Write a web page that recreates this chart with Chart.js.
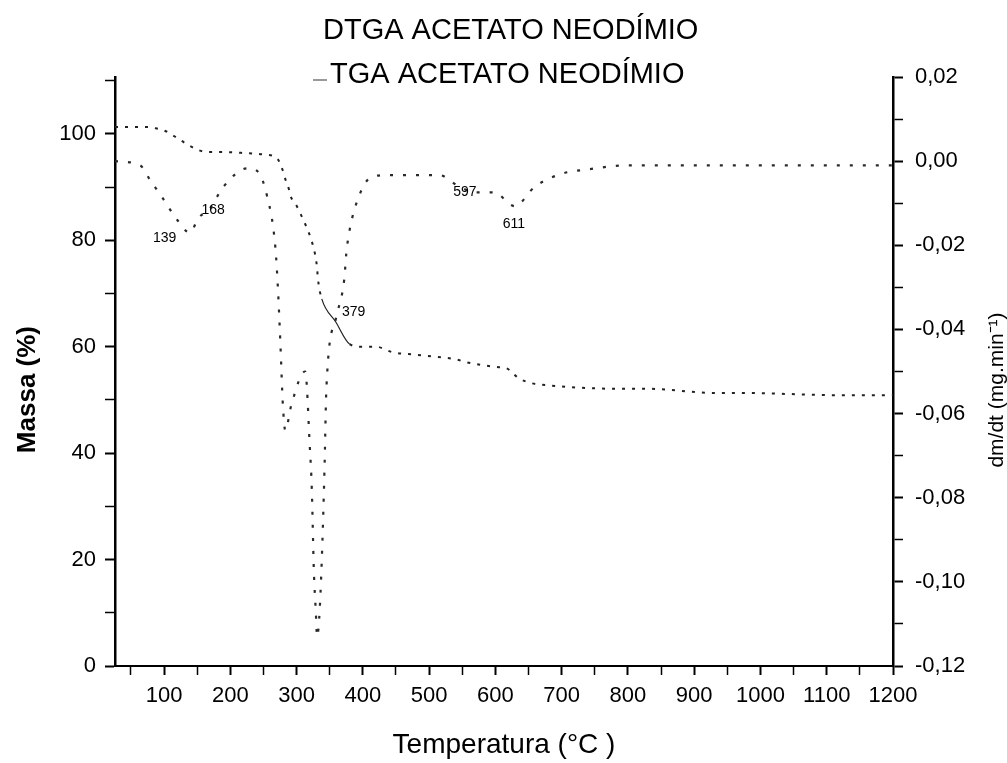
<!doctype html>
<html lang="pt">
<head>
    <meta charset="utf-8">
    <title>DTGA / TGA Acetato de Neodímio</title>
    <style>
        body { margin: 0; background: #fff; }
    </style>
</head>
<script src="https://cdn.jsdelivr.net/npm/chart.js"></script>
<body>
<div class="chart-container" style="height:763px; width:1007px">
    <canvas id="tga-chart"></canvas>
</div>
<script>
    // TGA curve: temperature (°C) and mass (%)
    const tgaTemp = [26, 54, 74, 86, 101, 124, 141, 165, 189, 222, 253, 270, 279, 283, 288, 291, 300, 311, 318, 326, 330, 333, 338, 359, 380, 398, 420, 444, 480, 512, 538, 556, 578, 601, 616, 635, 653, 677, 715, 786, 831, 932, 977, 1117, 1177, 1200]
    const tgaMass = [101.3, 101.3, 101.3, 101.1, 100.6, 98.9, 97.6, 96.6, 96.6, 96.4, 96.1, 95.5, 93.2, 91.5, 89.8, 88.3, 86.5, 83.6, 81.6, 78.4, 75.8, 72.0, 69.0, 64.7, 60.5, 60.0, 60.0, 59.0, 58.5, 58.1, 57.7, 57.1, 56.6, 56.2, 56.0, 54.1, 53.2, 52.8, 52.4, 52.1, 52.1, 51.3, 51.3, 50.9, 50.9, 50.9]

    // DTGA curve: temperature (°C) and dm/dt (mg.min-1)
    const dtgaTemp = [26, 64, 79, 98, 120, 139, 152, 168, 190, 226, 241, 255, 268, 272, 276, 279, 283, 292, 313, 320, 323, 326, 329, 331, 334, 338, 342, 345, 360, 372, 375, 380, 395, 411, 438, 515, 545, 570, 598, 629, 660, 700, 738, 800, 900, 1000, 1100, 1200]
    const dtgaRate = [0.000, -0.001, -0.0045, -0.0088, -0.014, -0.017, -0.0135, -0.0115, -0.006, -0.0017, -0.0024, -0.008, -0.0205, -0.0307, -0.045, -0.057, -0.064, -0.058, -0.050, -0.068, -0.078, -0.097, -0.107, -0.113, -0.109, -0.095, -0.074, -0.054, -0.037, -0.028, -0.022, -0.0164, -0.008, -0.004, -0.0033, -0.0033, -0.006, -0.0074, -0.0074, -0.0107, -0.006, -0.003, -0.002, -0.001, -0.001, -0.001, -0.001, -0.001]

    // peak labels written on the DTGA curve
    const peakText = ['139', '168', '379', '597', '611']
    const peakTemp = [101, 174, 386, 554, 628]
    const peakRate = [-0.0183, -0.0117, -0.036, -0.0074, -0.015]

    // axis ticks
    const tempTicks = [50, 100, 150, 200, 250, 300, 350, 400, 450, 500, 550, 600, 650, 700, 750, 800, 850, 900, 950, 1000, 1050, 1100, 1150, 1200]
    const massTicks = [0, 10, 20, 30, 40, 50, 60, 70, 80, 90, 100, 110]
    const rateTicks = [-0.12, -0.11, -0.10, -0.09, -0.08, -0.07, -0.06, -0.05, -0.04, -0.03, -0.02, -0.01, 0, 0.01, 0.02]

    const legendText = ['DTGA ACETATO NEODÍMIO', 'TGA ACETATO NEODÍMIO']
    const rateTitle = 'dm/dt (mg.min⁻¹)'

    const FONT = '"Liberation Sans", Arial, sans-serif'
    Chart.defaults.font.family = FONT
    Chart.defaults.color = '#000'

    // legend lines, right axis title and peak labels
    const notes = {
        id: 'notes',
        afterDraw(chart) {
            const ctx = chart.ctx
            const x = chart.scales.x
            const y1 = chart.scales.y1
            ctx.save()
            ctx.fillStyle = '#000'
            ctx.textBaseline = 'middle'
            ctx.textAlign = 'left'
            ctx.font = '29px ' + FONT
            ctx.fillText(legendText[0], 323, 31)
            ctx.fillText(legendText[1], 330, 75)
            ctx.strokeStyle = '#777'
            ctx.lineWidth = 1.5
            ctx.beginPath()
            ctx.moveTo(313, 80)
            ctx.lineTo(327, 80)
            ctx.stroke()

            ctx.font = '14px ' + FONT
            ctx.textAlign = 'center'
            for (let i = 0; i < peakText.length; i++) {
                ctx.fillText(peakText[i], x.getPixelForValue(peakTemp[i]), y1.getPixelForValue(peakRate[i]))
            }

            ctx.translate(997, 390)
            ctx.rotate(-Math.PI / 2)
            ctx.font = '21px ' + FONT
            ctx.fillText(rateTitle, 0, 0)
            ctx.restore()
        }
    }

    const tickStyle = {
        drawOnChartArea: false,
        drawTicks: true,
        tickLength: 10,
        tickColor: '#000'
    }

    new Chart(document.getElementById('tga-chart').getContext('2d'), {
        type: 'line',
        plugins: [notes],
        data: {
            datasets: [{
                label: legendText[1],
                data: tgaTemp.map((t, i) => ({x: t, y: tgaMass[i]})),
                yAxisID: 'y',
                borderColor: '#222',
                borderWidth: 2,
                borderDash: [3, 7],
                pointRadius: 0,
                cubicInterpolationMode: 'monotone',
                segment: {
                    // the steep part after 338 °C is drawn solid
                    borderDash: c => (c.p0.parsed.x >= 338 && c.p1.parsed.x <= 380) ? [] : undefined,
                    borderWidth: c => (c.p0.parsed.x >= 338 && c.p1.parsed.x <= 380) ? 1.2 : undefined
                }
            }, {
                label: legendText[0],
                data: dtgaTemp.map((t, i) => ({x: t, y: dtgaRate[i]})),
                yAxisID: 'y1',
                borderColor: '#2a2a2a',
                borderWidth: 2.2,
                borderDash: [3, 10],
                pointRadius: 0,
                cubicInterpolationMode: 'monotone'
            }]
        },
        options: {
            responsive: true,
            maintainAspectRatio: false,
            animation: false,
            layout: {padding: {top: 77, left: 0, right: 0, bottom: 0}},
            plugins: {
                legend: {display: false},
                tooltip: {enabled: false}
            },
            scales: {
                x: {
                    type: 'linear',
                    min: 26,
                    max: 1200,
                    afterBuildTicks: s => { s.ticks = tempTicks.map(v => ({value: v})) },
                    afterFit: s => { s.height = 97 },
                    grid: {...tickStyle, tickLength: 9, tickWidth: c => (c.tick && c.tick.value % 100 === 0) ? 2 : 1.5},
                    border: {display: true, color: '#000', width: 2},
                    ticks: {
                        autoSkip: false,
                        maxRotation: 0,
                        padding: 8,
                        font: {size: 22},
                        callback: v => v % 100 === 0 ? String(v) : ''
                    },
                    title: {
                        display: true,
                        text: 'Temperatura (°C )',
                        font: {size: 28},
                        padding: {top: 0, bottom: 1}
                    }
                },
                y: {
                    position: 'left',
                    min: 0,
                    max: 110.7,
                    afterBuildTicks: s => { s.ticks = massTicks.map(v => ({value: v})) },
                    afterFit: s => { s.width = 115 },
                    grid: {...tickStyle, tickWidth: c => (c.tick && c.tick.value % 20 === 0) ? 2 : 1.5},
                    border: {display: true, color: '#000', width: 2.5},
                    ticks: {
                        autoSkip: false,
                        padding: 9,
                        font: {size: 22},
                        callback: v => (v % 20 === 0 && v <= 100) ? String(v) : ''
                    },
                    title: {
                        display: true,
                        // trailing spaces push the centred title a little lower, as in the original
                        text: 'Massa (%)     ',
                        font: {size: 26, weight: 'bold'},
                        padding: {top: 12, bottom: 0}
                    }
                },
                y1: {
                    position: 'right',
                    min: -0.12,
                    max: 0.02,
                    afterBuildTicks: s => { s.ticks = rateTicks.map(v => ({value: v})) },
                    afterFit: s => { s.width = 114 },
                    grid: {...tickStyle, tickWidth: c => (c.tick && Math.round(c.tick.value * 100) % 2 === 0) ? 2 : 1.5},
                    border: {display: true, color: '#000', width: 2.5},
                    ticks: {
                        autoSkip: false,
                        padding: 12,
                        font: {size: 22},
                        callback: v => Math.round(v * 100) % 2 === 0 ? v.toFixed(2).replace('.', ',') : ''
                    }
                }
            }
        }
    })
</script>
</body>
</html>
